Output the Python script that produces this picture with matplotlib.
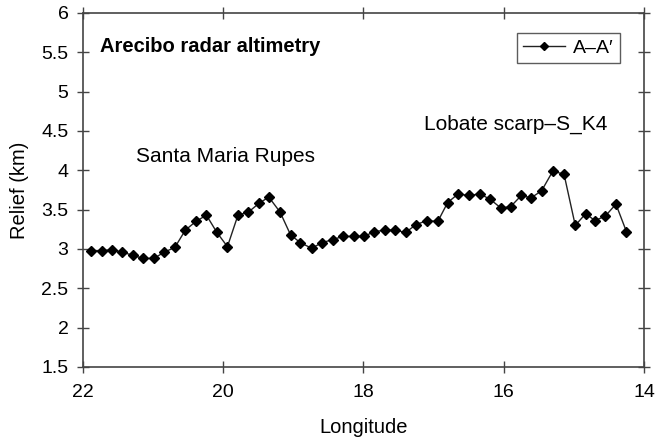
import matplotlib

matplotlib.use("Agg")

import matplotlib.pyplot as plt

plt.rcParams["font.family"] = ["Liberation Sans", "DejaVu Sans"]

# Relief profile A–A' across Santa Maria Rupes and the S_K4 lobate scarp
longitude = [
    21.89, 21.73, 21.59, 21.44, 21.29, 21.14, 20.99, 20.84, 20.69, 20.54,
    20.39, 20.24, 20.09, 19.94, 19.79, 19.64, 19.49, 19.35, 19.19, 19.04,
    18.90, 18.74, 18.59, 18.44, 18.29, 18.14, 17.99, 17.85, 17.69, 17.55,
    17.40, 17.25, 17.10, 16.94, 16.80, 16.65, 16.50, 16.34, 16.19, 16.04,
    15.90, 15.75, 15.61, 15.46, 15.30, 15.14, 14.98, 14.83, 14.70, 14.55,
    14.40, 14.25,
]
relief = [
    2.98, 2.98, 2.99, 2.96, 2.92, 2.88, 2.88, 2.96, 3.02, 3.24,
    3.35, 3.43, 3.21, 3.03, 3.43, 3.47, 3.58, 3.66, 3.47, 3.18,
    3.08, 3.01, 3.08, 3.12, 3.16, 3.16, 3.16, 3.22, 3.24, 3.24,
    3.21, 3.31, 3.36, 3.35, 3.59, 3.70, 3.68, 3.70, 3.63, 3.52,
    3.54, 3.68, 3.65, 3.74, 3.99, 3.95, 3.30, 3.45, 3.36, 3.42,
    3.57, 3.22,
]

x_ticks = [22, 20, 18, 16, 14]
y_ticks = [1.5, 2, 2.5, 3, 3.5, 4, 4.5, 5, 5.5, 6]
y_tick_labels = ["1.5", "2", "2.5", "3", "3.5", "4", "4.5", "5", "5.5", "6"]

ink = "#222222"

fig = plt.figure(figsize=(6.58, 4.45), dpi=100)
ax = fig.add_axes([0.1261, 0.1753, 0.8526, 0.7955])

ax.plot(longitude, relief, color=ink, linewidth=1.0, marker="D",
        markersize=4.6, markerfacecolor="black", markeredgecolor="black",
        label="A\u2013A\u2032")

ax.set_xlim(22, 14)
ax.set_ylim(1.5, 6)
ax.set_xticks(x_ticks)
ax.set_xticklabels([str(t) for t in x_ticks])
ax.set_yticks(y_ticks)
ax.set_yticklabels(y_tick_labels)

for spine in ax.spines.values():
    spine.set_color("#444444")
    spine.set_linewidth(1.2)

ax.tick_params(axis="both", which="major", direction="inout", length=9,
               width=1.0, color="#444444", labelsize=14, pad=6)
ax.tick_params(top=True, right=True)
ax.xaxis.set_tick_params(which="major", pad=8)

ax.set_xlabel("Longitude", fontsize=14.5, labelpad=12)
ax.set_ylabel("Relief (km)", fontsize=14.5, labelpad=9)

ax.text(21.76, 5.57, "Arecibo radar altimetry", fontsize=14.5,
        fontweight="bold", ha="left", va="center")
ax.text(21.24, 4.17, "Santa Maria Rupes", fontsize=15, ha="left", va="center")
ax.text(17.14, 4.58, "Lobate scarp\u2013S_K4", fontsize=15, ha="left",
        va="center")

leg = ax.legend(loc="upper right", bbox_to_anchor=(0.957, 0.943),
                borderaxespad=0, fontsize=14, frameon=True, fancybox=False,
                markerscale=0.8, handlelength=2.15, borderpad=0.32,
                handletextpad=0.4)
leg.get_frame().set_edgecolor("#333333")
leg.get_frame().set_linewidth(1.0)

fig.savefig("out.png", dpi=100)
plt.close(fig)
